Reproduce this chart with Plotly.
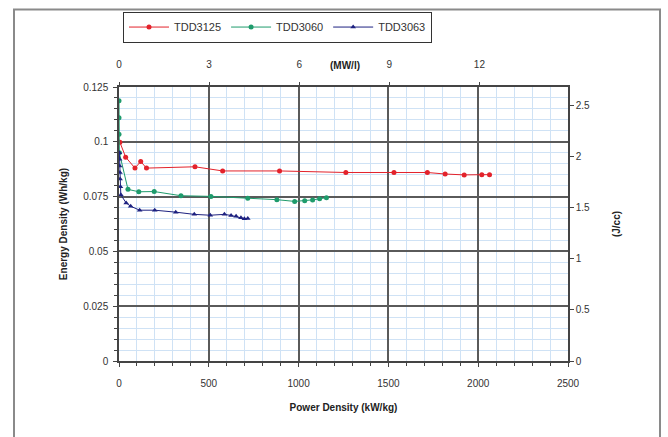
import plotly.graph_objects as go

# ---- data ----
red_name = "TDD3125"
red_x = [5, 37, 89, 121, 153, 423, 577, 894, 1263, 1531, 1717, 1816, 1922, 2020, 2063]
red_y = [0.0998, 0.093, 0.088, 0.091, 0.088, 0.0886, 0.0867, 0.0867, 0.086, 0.086,
         0.086, 0.0853, 0.0849, 0.085, 0.085]

green_name = "TDD3060"
green_x = [0, 0, 0, 2, 50, 110, 196, 345, 512, 717, 879, 978, 1034, 1078, 1117, 1155]
green_y = [0.1187, 0.111, 0.1034, 0.095, 0.0783, 0.0772, 0.0773, 0.0754, 0.0751,
           0.0743, 0.0736, 0.0728, 0.0731, 0.0735, 0.074, 0.0745]

blue_name = "TDD3063"
blue_x = [2, 3, 4, 5, 6, 8, 10, 40, 65, 115, 199, 316, 419, 508, 587, 624, 652, 679, 698, 717]
blue_y = [0.095, 0.092, 0.089, 0.086, 0.083, 0.0795, 0.0758, 0.0721, 0.0706, 0.0688,
          0.0688, 0.0679, 0.0669, 0.0665, 0.0669, 0.0664, 0.066, 0.0653, 0.0649, 0.065]

x_range = [0, 2500]
y_range = [0, 0.125]
top_range = [0, 14.95]          # MW/l
top_ticks = [0, 3, 6, 9, 12]
right_range = [0, 2.68]         # J/cc
right_ticks = [0, 0.5, 1, 1.5, 2, 2.5]

RED = "#e3222b"
GREEN = "#1e9b6c"
BLUE = "#1d2180"
FONT = "Liberation Sans, Arial, sans-serif"

fig = go.Figure()
fig.add_trace(go.Scatter(x=red_x, y=red_y, name=red_name, mode="lines+markers",
                         line=dict(color=RED, width=1),
                         marker=dict(color=RED, size=5, symbol="circle")))
fig.add_trace(go.Scatter(x=green_x, y=green_y, name=green_name, mode="lines+markers",
                         line=dict(color=GREEN, width=1),
                         marker=dict(color=GREEN, size=5, symbol="circle")))
fig.add_trace(go.Scatter(x=blue_x, y=blue_y, name=blue_name, mode="lines+markers",
                         line=dict(color=BLUE, width=1),
                         marker=dict(color=BLUE, size=5, symbol="triangle-up")))
# invisible traces to anchor secondary axes
fig.add_trace(go.Scatter(x=top_range, y=right_range, xaxis="x2", yaxis="y2",
                         mode="markers", marker=dict(opacity=0), showlegend=False,
                         hoverinfo="skip"))

L, R, T, B = 119, 100, 85, 76
W, H = 668, 437
pw, ph = W - L - R, H - T - B

def px_x(p):
    return (p - L) / pw

def px_y(p):
    return (H - B - p) / ph

tickfont = dict(family=FONT, size=10, color="#333")
titlefont = dict(family=FONT, size=10, color="#222", weight="bold")

fig.update_layout(
    width=W, height=H,
    margin=dict(l=L, r=R, t=T, b=B),
    paper_bgcolor="white", plot_bgcolor="white",
    font=dict(family=FONT, size=10, color="#333"),
    showlegend=True,
    legend=dict(orientation="h", x=px_x(123), y=px_y(9), xanchor="left", yanchor="top",
                bordercolor="#333", borderwidth=1, bgcolor="white",
                font=dict(family=FONT, size=11, color="#333"),
                itemwidth=40, tracegroupgap=0),
    xaxis=dict(range=x_range, dtick=500, tick0=0, showgrid=True, gridcolor="#5a5a5a",
               gridwidth=1.5, zeroline=False, showline=True, linecolor="#444", linewidth=1.5,
               ticks="outside", ticklen=4, tickcolor="#444", tickfont=tickfont,
               ticklabelstandoff=8,
               minor=dict(dtick=100, showgrid=True, gridcolor="#cfe2f5", gridwidth=1,
                          ticks="outside", ticklen=3, tickcolor="#444"),
               title=dict(text="Power Density (kW/kg)", font=titlefont, standoff=16)),
    yaxis=dict(range=y_range, dtick=0.025, tick0=0, showgrid=True, gridcolor="#5a5a5a",
               gridwidth=1.5, zeroline=False, showline=True, linecolor="#444", linewidth=1.5,
               ticks="outside", ticklen=4, tickcolor="#444", tickfont=tickfont,
               ticklabelstandoff=3,
               minor=dict(dtick=0.005, showgrid=True, gridcolor="#cfe2f5", gridwidth=1,
                          ticks="outside", ticklen=3, tickcolor="#444"),
               title=dict(text="Energy Density (Wh/kg)", font=titlefont, standoff=14)),
    xaxis2=dict(overlaying="x", side="top", range=top_range, tickvals=top_ticks,
                showgrid=False, zeroline=False, showline=True, linecolor="#444",
                linewidth=1.5, ticks="outside", ticklen=3, tickcolor="#444",
                tickfont=tickfont, ticklabelstandoff=10, anchor="y2"),
    yaxis2=dict(overlaying="y", side="right", range=right_range, tickvals=right_ticks,
                showgrid=False, zeroline=False, showline=True, linecolor="#444",
                linewidth=1.5, ticks="outside", ticklen=4, tickcolor="#444",
                tickfont=tickfont, anchor="x2",
                title=dict(text="(J/cc)", font=titlefont, standoff=24)),
    annotations=[dict(text="<b>(MW/l)</b>", xref="paper", yref="paper",
                      x=px_x(345), y=px_y(56), showarrow=False,
                      font=dict(family=FONT, size=10, color="#222"))],
    shapes=[dict(type="rect", xref="paper", yref="paper",
                 x0=px_x(14), x1=px_x(660), y0=px_y(445), y1=px_y(7),
                 line=dict(color="#8a8a8a", width=2), layer="below")],
)

fig.write_html("out.html")
